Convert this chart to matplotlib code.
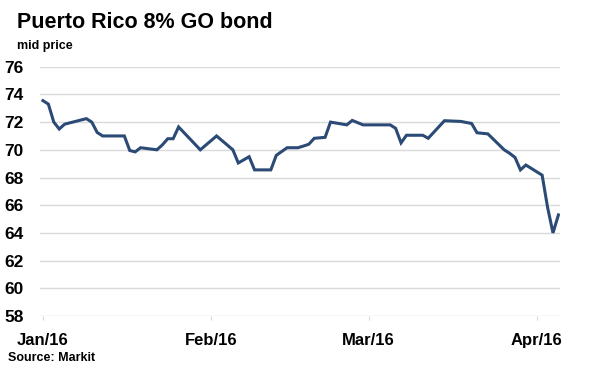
import matplotlib
matplotlib.use("Agg")
import matplotlib.pyplot as plt
import pandas as pd

plt.rcParams['font.family'] = ['Liberation Sans', 'DejaVu Sans']

# mid price of the bond
dates = ["2016-01-01", "2016-01-02", "2016-01-03", "2016-01-04", "2016-01-05",
         "2016-01-09", "2016-01-10", "2016-01-11", "2016-01-12", "2016-01-16",
         "2016-01-17", "2016-01-18", "2016-01-19", "2016-01-22", "2016-01-23",
         "2016-01-24", "2016-01-25", "2016-01-26", "2016-01-30", "2016-02-02",
         "2016-02-05", "2016-02-06", "2016-02-08", "2016-02-09", "2016-02-12",
         "2016-02-13", "2016-02-15", "2016-02-17", "2016-02-18", "2016-02-19",
         "2016-02-20", "2016-02-22", "2016-02-23", "2016-02-26", "2016-02-27",
         "2016-02-29", "2016-03-05", "2016-03-06", "2016-03-07", "2016-03-08",
         "2016-03-11", "2016-03-12", "2016-03-15", "2016-03-18", "2016-03-20",
         "2016-03-21", "2016-03-23", "2016-03-26", "2016-03-27", "2016-03-28",
         "2016-03-29", "2016-03-30", "2016-04-02", "2016-04-03", "2016-04-04",
         "2016-04-05"]
prices = [73.55, 73.3, 72.0, 71.5, 71.85,
          72.25, 72.0, 71.25, 71.0, 71.0,
          69.95, 69.85, 70.15, 70.0, 70.35,
          70.8, 70.8, 71.65, 70.0, 71.0,
          70.0, 69.05, 69.5, 68.55, 68.55,
          69.6, 70.15, 70.15, 70.27, 70.4,
          70.83, 70.9, 72.0, 71.8, 72.12,
          71.8, 71.8, 71.55, 70.5, 71.05,
          71.05, 70.83, 72.1, 72.05, 71.9,
          71.23, 71.15, 70.0, 69.75, 69.45,
          68.55, 68.9, 68.17, 65.85, 64.0,
          65.3]

tick_dates = ["2016-01-01", "2016-02-01", "2016-03-01", "2016-04-01"]
tick_labels = ["Jan/16", "Feb/16", "Mar/16", "Apr/16"]
y_ticks = list(range(58, 77, 2))

x = pd.to_datetime(dates)

fig = plt.figure(figsize=(5.9, 3.82), dpi=100)
ax = fig.add_axes([40 / 590, 1 - 316 / 382, 520 / 590, (316 - 66.7) / 382])

ax.plot(x, prices, color="#2b4a76", linewidth=2.2, solid_joinstyle="miter")

ax.set_ylim(58, 76)
ax.set_yticks(y_ticks)
ax.set_xlim(pd.Timestamp("2016-01-01") - pd.Timedelta(hours=13),
            pd.Timestamp("2016-04-05") + pd.Timedelta(hours=7))
ax.set_xticks(pd.to_datetime(tick_dates))
ax.set_xticklabels(tick_labels)

ax.grid(axis="y", color="#dadada", linewidth=1)
ax.set_axisbelow(True)
for s in ax.spines.values():
    s.set_visible(False)

ax.tick_params(axis="y", length=0, pad=12, labelsize=12.5)
ax.tick_params(axis="x", length=3, color="#d9d9d9", direction="out", pad=9, labelsize=12)
for lab in ax.get_xticklabels() + ax.get_yticklabels():
    lab.set_fontweight("bold")

fig.text(17 / 590, 1 - 28 / 382, "Puerto Rico 8% GO bond", fontsize=15.5,
         fontweight="bold", ha="left", va="baseline")
fig.text(17 / 590, 1 - 49 / 382, "mid price", fontsize=9, fontweight="bold",
         ha="left", va="baseline")
fig.text(8 / 590, 1 - 361 / 382, "Source: Markit", fontsize=9, fontweight="bold",
         ha="left", va="baseline")

fig.savefig("out.png", dpi=100, facecolor="white")
